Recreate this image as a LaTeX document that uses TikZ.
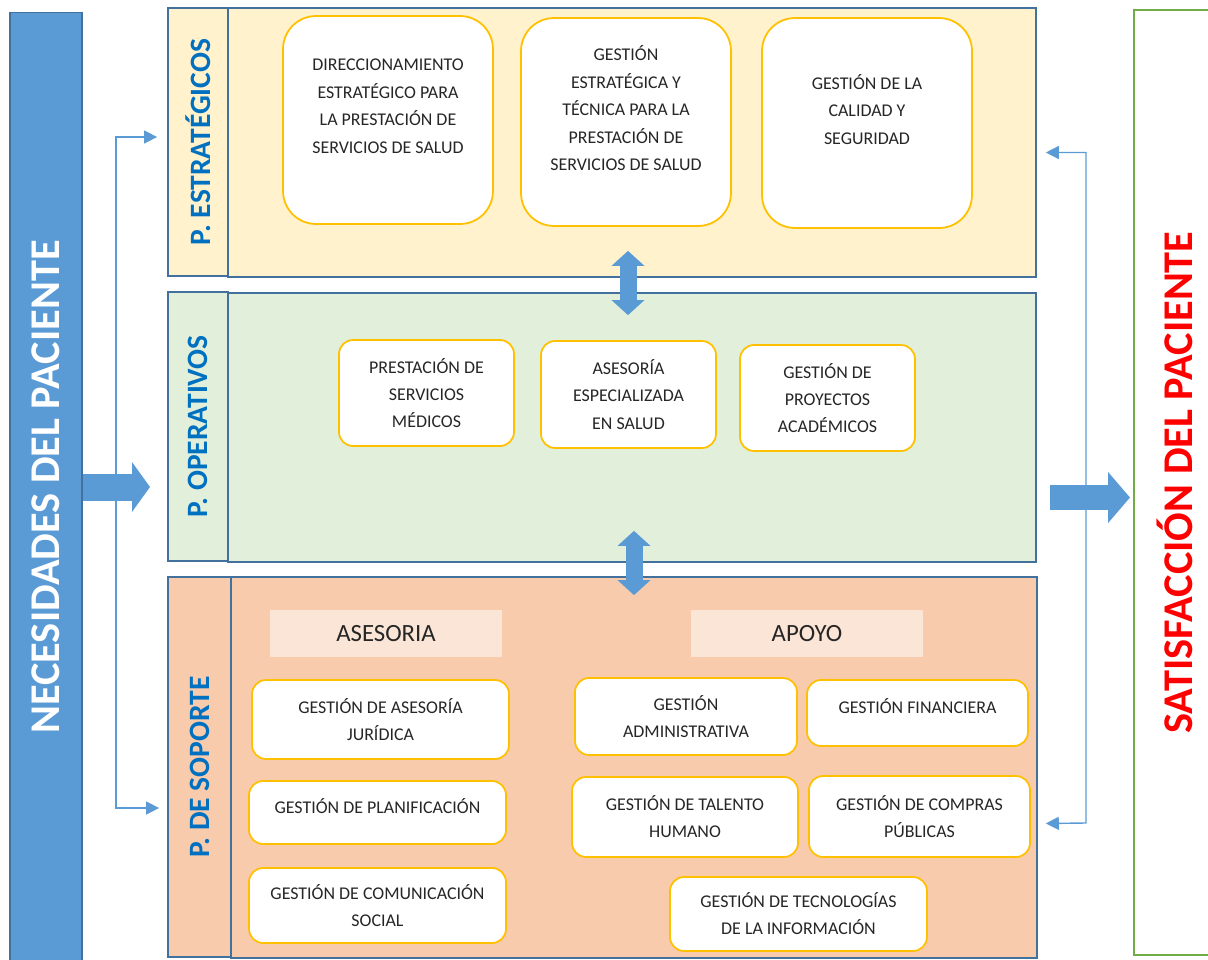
\documentclass[tikz,border=0pt]{standalone}
\usepackage{fontspec}
\setmainfont{Carlito}
\usetikzlibrary{arrows.meta}

\definecolor{azulbarra}{HTML}{5B9BD5}
\definecolor{bordepanel}{HTML}{41719C}
\definecolor{fondoestr}{HTML}{FFF2CC}
\definecolor{fondooper}{HTML}{E2EFDA}
\definecolor{fondosop}{HTML}{F8CBAD}
\definecolor{fondotit}{HTML}{FBE5D6}
\definecolor{amarillo}{HTML}{FFC000}
\definecolor{azultexto}{HTML}{0070C0}
\definecolor{verde}{HTML}{70AD47}
\definecolor{rojo}{HTML}{FF0000}
\definecolor{textocaja}{HTML}{262626}

\tikzset{
  panel/.style={draw=bordepanel, line width=1pt, inner sep=0pt},
  etiqueta/.style={panel, font=\fontsize{16.8}{18}\selectfont\bfseries, text=azultexto},
  caja/.style={draw=amarillo, line width=1pt, fill=white, rounded corners=0.28cm, inner sep=0pt, align=center, text=textocaja, font=\fontsize{10.2}{15.4}\selectfont},
  cajagrande/.style={caja, rounded corners=0.66cm, font=\fontsize{10.2}{15.6}\selectfont},
  cajaop/.style={caja, font=\fontsize{10.2}{15.6}\selectfont},
  titulo/.style={fill=fondotit, inner sep=0pt, text=textocaja, font=\fontsize{14.1}{16}\selectfont},
  lateral/.style={inner sep=0pt, font=\fontsize{24.1}{26}\selectfont\bfseries},
  flechita/.style={draw=azulbarra, line width=0.8pt, {Triangle[width=0.26cm,length=0.26cm]}-{Triangle[width=0.26cm,length=0.26cm]}},
  dobleflecha/.style={azulbarra, line width=0.34cm, {Triangle[width=0.64cm,length=0.3cm]}-{Triangle[width=0.64cm,length=0.3cm]}},
  flechagrande/.style={azulbarra, line width=0.54cm, -{Triangle[width=0.98cm,length=0.36cm]}}
}

\begin{document}
\begin{tikzpicture}[x=0.02cm,y=-0.02cm]
\clip (0,0) rectangle (1208,960);

% columnas laterales
\node[lateral, fill=azulbarra, draw=bordepanel, line width=0.6pt, text=white, minimum width=1.44cm, minimum height=19cm] (nec) at (46,487) {\rotatebox{90}{NECESIDADES DEL PACIENTE}};
\node[lateral, draw=verde, line width=1pt, text=rojo, minimum width=1.64cm, minimum height=18.9cm] (sat) at (1175,482.5) {\rotatebox{90}{SATISFACCIÓN DEL PACIENTE}};

% procesos estrategicos
\node[etiqueta, fill=fondoestr, minimum width=1.2cm, minimum height=5.36cm] (estlab) at (198,142) {\rotatebox{90}{P. ESTRATÉGICOS}};
\node[panel, fill=fondoestr, minimum width=16.16cm, minimum height=5.38cm] (est) at (632,142.5) {};
\node[cajagrande, minimum width=4.2cm, minimum height=4.16cm] (direc) at (388,120) {DIRECCIONAMIENTO\\ESTRATÉGICO PARA\\LA PRESTACIÓN DE\\SERVICIOS DE SALUD\\~};
\node[cajagrande, minimum width=4.2cm, minimum height=4.16cm] (gestec) at (626,122) {GESTIÓN\\ESTRATÉGICA Y\\TÉCNICA PARA LA\\PRESTACIÓN DE\\SERVICIOS DE SALUD\\~};
\node[cajagrande, minimum width=4.2cm, minimum height=4.2cm] (calidad) at (867,123) {GESTIÓN DE LA\\CALIDAD Y\\SEGURIDAD\\~};

% procesos operativos
\node[etiqueta, fill=fondooper, minimum width=1.2cm, minimum height=5.38cm] (oplab) at (198,426.5) {\rotatebox{90}{P. OPERATIVOS}};
\node[panel, fill=fondooper, minimum width=16.16cm, minimum height=5.38cm] (op) at (632,427.5) {};
\node[cajaop, minimum width=3.5cm, minimum height=2.12cm] (medicos) at (426.5,393) {PRESTACIÓN DE\\SERVICIOS\\MÉDICOS};
\node[cajaop, minimum width=3.5cm, minimum height=2.14cm] (salud) at (628.5,394.5) {ASESORÍA\\ESPECIALIZADA\\EN SALUD};
\node[cajaop, minimum width=3.5cm, minimum height=2.12cm] (proyectos) at (827.5,398) {GESTIÓN DE\\PROYECTOS\\ACADÉMICOS};

% procesos de soporte
\node[etiqueta, fill=fondosop, minimum width=1.26cm, minimum height=7.6cm] (soplab) at (199.5,767) {\rotatebox{90}{P. DE SOPORTE}};
\node[panel, fill=fondosop, minimum width=16.12cm, minimum height=7.62cm] (sop) at (634,767.5) {};
\node[titulo, minimum width=4.64cm, minimum height=0.94cm] (asesoria) at (386,633.5) {ASESORIA};
\node[titulo, minimum width=4.64cm, minimum height=0.94cm] (apoyo) at (807,633.5) {APOYO};
\node[caja, minimum width=5.14cm, minimum height=1.58cm] (juridica) at (380.5,719.5) {GESTIÓN DE ASESORÍA\\JURÍDICA};
\node[caja, minimum width=5.14cm, minimum height=1.26cm] (planif) at (377.5,812.5) {GESTIÓN DE PLANIFICACIÓN\\[-8pt]~};
\node[caja, minimum width=5.14cm, minimum height=1.5cm] (comunic) at (377.5,905.5) {GESTIÓN DE COMUNICACIÓN\\SOCIAL};
\node[caja, minimum width=4.44cm, minimum height=1.54cm] (admin) at (686,716.5) {GESTIÓN\\ADMINISTRATIVA};
\node[caja, minimum width=4.42cm, minimum height=1.32cm] (finan) at (917.5,713) {GESTIÓN FINANCIERA\\[-8pt]~};
\node[caja, minimum width=4.52cm, minimum height=1.6cm] (talento) at (685,817) {GESTIÓN DE TALENTO\\HUMANO};
\node[caja, minimum width=4.42cm, minimum height=1.62cm] (compras) at (919.5,816.5) {GESTIÓN DE COMPRAS\\PÚBLICAS};
\node[caja, minimum width=5.14cm, minimum height=1.48cm] (tics) at (798.5,914) {GESTIÓN DE TECNOLOGÍAS\\DE LA INFORMACIÓN};

% flechas
\draw[dobleflecha] ([shift={(-4,-27)}]est.south) -- ([shift={(-4,23)}]op.north);
\draw[dobleflecha] ([shift={(2,-32)}]op.south) -- ([shift={(0,19)}]sop.north);

\coordinate (entrada) at (150,487);
\draw[flechagrande] (nec.east |- entrada) -- (entrada);
\coordinate (salini) at (1050,497.5);
\coordinate (salida) at (1130,497.5);
\draw[flechagrande, line width=0.5cm, -{Triangle[width=1cm,length=0.44cm]}] (salini) -- (salida);

\coordinate (izq) at (116,0);
\coordinate (der) at (1086,0);
\draw[flechita] ([shift={(-10,-5)}]estlab.west) -| (izq |- 0,808) -- ([shift={(-8,41)}]soplab.west);
\draw[flechita] ([shift={(9,10)}]est.east) -| (der |- 0,823) -- ([shift={(8,56)}]sop.east);
\end{tikzpicture}
\end{document}
